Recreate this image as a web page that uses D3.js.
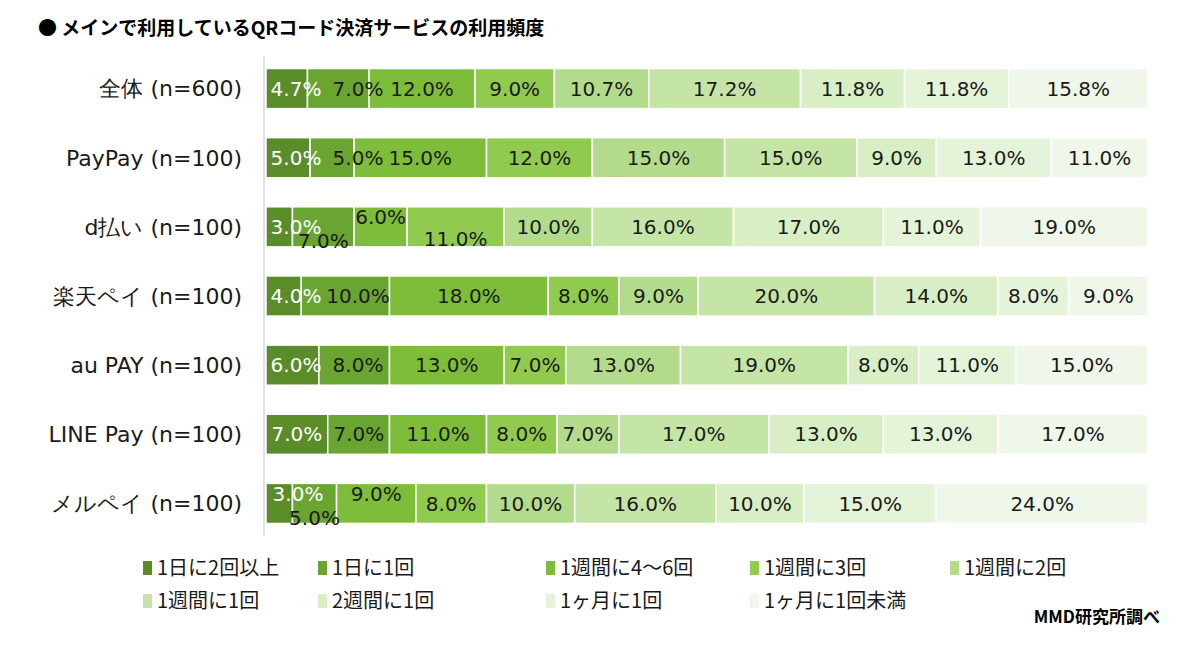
<!DOCTYPE html>
<html><head><meta charset="utf-8">
<script src="https://cdn.jsdelivr.net/npm/d3@7"></script>
<style>body{margin:0;background:#fff}</style>
</head><body>
<svg width="1200" height="654"></svg>
<script>
const categories = ['全体 (n=600)','PayPay (n=100)','d払い (n=100)','楽天ペイ (n=100)','au PAY (n=100)','LINE Pay (n=100)','メルペイ (n=100)'];
const seriesNames = ['1日に2回以上','1日に1回','1週間に4～6回','1週間に3回','1週間に2回','1週間に1回','2週間に1回','1ヶ月に1回','1ヶ月に1回未満'];
const values = [
  [4.7,7.0,12.0,9.0,10.7,17.2,11.8,11.8,15.8],
  [5.0,5.0,15.0,12.0,15.0,15.0,9.0,13.0,11.0],
  [3.0,7.0,6.0,11.0,10.0,16.0,17.0,11.0,19.0],
  [4.0,10.0,18.0,8.0,9.0,20.0,14.0,8.0,9.0],
  [6.0,8.0,13.0,7.0,13.0,19.0,8.0,11.0,15.0],
  [7.0,7.0,11.0,8.0,7.0,17.0,13.0,13.0,17.0],
  [3.0,5.0,9.0,8.0,10.0,16.0,10.0,15.0,24.0]
];
// vertical nudges for crowded labels (row, series, dy)
const nudges = [[2,1,14],[2,2,-10],[2,3,12],[6,0,-10],[6,1,14],[6,2,-10]];
const colors = ['#5b8c2a','#6aa532','#7dbd3a','#90cb50','#b2dc8c','#c5e5a6','#d8eec4','#e5f3d8','#eef7e9'];

const svg = d3.select('svg');
const font = '"DejaVu Sans", Verdana, sans-serif';

svg.append('text').attr('x', 38).attr('y', 35).attr('font-family', '"Noto Sans CJK JP", sans-serif')
  .attr('font-weight', 'bold').attr('font-size', 19).text('●  メインで利用しているQRコード決済サービスの利用頻度');

const x = d3.scaleLinear().domain([0, 100]).range([266, 1148]);
const y = d3.scaleBand().domain(categories).range([54, 538]).paddingInner(0.42).paddingOuter(0.21);

svg.append('line').attr('x1', 264).attr('x2', 264).attr('y1', 56).attr('y2', 536).attr('stroke', '#d9d9d9').attr('stroke-width', 1.5);

const LW = 60; // approx label width
categories.forEach((c, i) => {
  let acc = 0;
  const row = values[i].map((v, j) => { const s = { v, j, x0: acc }; acc += v; return s; });
  // label centres, pushed right so labels on the same line don't collide
  let lastEnd = { 0: x(0) - 2, '-1': x(0) - 2, 1: x(0) - 2 };
  row.forEach(d => {
    const n = nudges.find(k => k[0] === i && k[1] === d.j);
    d.dy = n ? n[2] : 0;
    const lane = Math.sign(d.dy);
    let cx = x(d.x0 + d.v / 2);
    if (lane === 0 && cx - LW / 2 < lastEnd[0] + 2) cx = lastEnd[0] + 2 + LW / 2;
    if (lane !== 0 && cx - LW / 2 < x(0) + 2) cx = x(0) + 2 + LW / 2;
    d.cx = cx;
    lastEnd[lane] = cx + LW / 2;
    if (lane !== 0) lastEnd[0] = Math.max(lastEnd[0], x(d.x0 + d.v) - LW);
  });
  const g = svg.append('g');
  g.selectAll('rect').data(row).join('rect')
    .attr('x', d => x(d.x0)).attr('y', y(c))
    .attr('width', d => x(d.x0 + d.v) - x(d.x0)).attr('height', y.bandwidth())
    .attr('fill', d => colors[d.j]).attr('stroke', '#fff').attr('stroke-width', 1.5);
  g.selectAll('text').data(row).join('text')
    .attr('x', d => d.cx)
    .attr('y', d => y(c) + y.bandwidth() / 2 + d.dy)
    .attr('dy', '0.36em').attr('text-anchor', 'middle')
    .attr('font-family', font).attr('font-size', 20)
    .attr('fill', d => d.j === 0 ? '#fff' : '#1a1a1a')
    .text(d => d.v.toFixed(1) + '%');
  svg.append('text').attr('x', 242).attr('y', y(c) + y.bandwidth() / 2).attr('dy', '0.36em')
    .attr('text-anchor', 'end').attr('font-family', font).attr('font-size', 22)
    .attr('fill', '#1a1a1a').text(c);
});

const legX = [143, 318, 546, 750, 950];
const leg = svg.append('g').selectAll('g').data(seriesNames).join('g')
  .attr('transform', (d, i) => `translate(${legX[i % 5]},${i < 5 ? 568 : 601})`);
leg.append('rect').attr('x', 0).attr('y', -7).attr('width', 9).attr('height', 14).attr('fill', (d, i) => colors[i]);
leg.append('text').attr('x', 14).attr('dy', '0.36em').attr('font-family', '"Noto Sans CJK JP", sans-serif')
  .attr('font-size', 20).attr('fill', '#1a1a1a').text(d => d);

svg.append('text').attr('x', 1160).attr('y', 623).attr('text-anchor', 'end')
  .attr('font-family', '"Noto Sans CJK JP", sans-serif').attr('font-weight', 'bold').attr('font-size', 17).text('MMD研究所調べ');
</script>
</body></html>
